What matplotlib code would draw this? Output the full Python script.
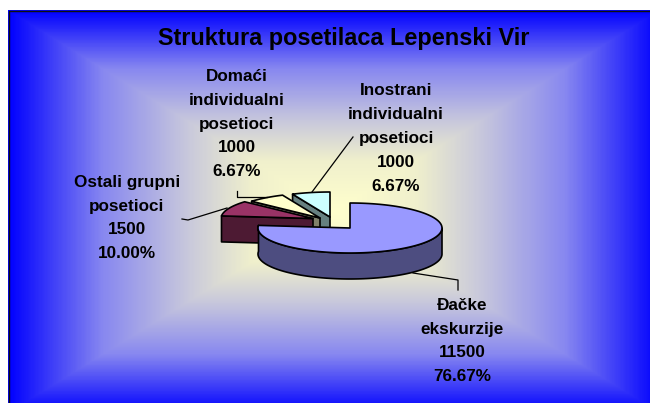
import numpy as np
import matplotlib
matplotlib.use("Agg")
import matplotlib.pyplot as plt
from matplotlib.colors import LinearSegmentedColormap
from matplotlib.patches import Polygon

title = "Struktura posetilaca Lepenski Vir"
categories = ["Đačke\nekskurzije", "Ostali grupni\nposetioci", "Domaći\nindividualni\nposetioci", "Inostrani\nindividualni\nposetioci"]
values = [11500, 1500, 1000, 1000]
percents = ["76.67%", "10.00%", "6.67%", "6.67%"]

W, H = 650, 403
plt.rcParams['font.family'] = ['Liberation Sans', 'DejaVu Sans']
fig = plt.figure(figsize=(W/100, H/100), dpi=100)
ax = fig.add_axes([0, 0, 1, 1])
ax.set_xlim(0, W); ax.set_ylim(H, 0); ax.axis('off')

# background: rectangular gradient that runs on past the right and bottom edge
L, T, R, B = 8, 10, 660, 413
cx0, cy0 = (L+R)/2, (T+B)/2
xs = np.linspace(L, R, 652); ys = np.linspace(T, B, 403)
X, Y = np.meshgrid(xs, ys)
G = np.maximum(np.abs(X-cx0)/((R-L)/2), np.abs(Y-cy0)/((B-T)/2))
cmap = LinearSegmentedColormap.from_list('bg', [(0, '#ffffcc'), (0.25, '#f0f0cc'), (0.45, '#c8c8dc'), (0.71, '#8888f0'), (1, '#0000ff')])
ax.imshow(G, cmap=cmap, vmin=0, vmax=1, extent=(L, R, B, T), aspect='auto', zorder=0, interpolation='bilinear')
ax.set_xlim(0, W); ax.set_ylim(H, 0)
ax.plot([8.5, 8.5, 650], [403, 10.5, 10.5], color='#101010', lw=1.0, zorder=1)

# pie geometry
a, b, depth = 92, 25, 26
centres = [(350, 228), (313, 218.5), (320, 218), (330, 217)]
tops = ['#9999ff', '#993366', '#ffffcc', '#ccffff']
sides = ['#4d4d80', '#4d1a33', '#80806a', '#668080']
frac = np.array(values, float)/sum(values)
edges = np.concatenate([[0], np.cumsum(frac)])*360

def pt(c, th):
    t = np.radians(th)
    return c[0]+a*np.sin(t), c[1]-b*np.cos(t)

def arc(c, t0, t1):
    return [pt(c, v) for v in np.linspace(t0, t1, 120)]

def poly(pts, fc, z):
    ax.add_patch(Polygon(pts, closed=True, fc=fc, ec='black', lw=1.2, zorder=z, joinstyle='round'))

def down(pts):
    return [(x, y+depth) for x, y in pts]

z = 5
for i in [3, 2, 1]:
    c = centres[i]; t0, t1 = edges[i], edges[i+1]
    e = [pt(c, t0), c]
    poly(e+down(e)[::-1], sides[i], z); z += 1
    poly([c]+arc(c, t0, t1), tops[i], z); z += 1

c = centres[0]; t0, t1 = edges[0], edges[1]
wall = arc(c, 90, t1)
poly(wall+down(wall)[::-1], sides[0], z); z += 1
poly([c]+arc(c, t0, t1), tops[0], z); z += 1

leaders = [
    ([413, 458, 458], [273, 280, 290]),
    ([182, 188, 227], [219, 220, 208]),
    ([237, 237, 267], [191, 197, 197]),
    ([353, 312], [137, 192]),
]
for lx, ly in leaders:
    ax.plot(lx, ly, color='black', lw=0.9, zorder=z)

pos = [(462, 341), (127, 218), (237, 124), (396, 138.5)]
for i, (x, y) in enumerate(pos):
    s = f"{categories[i]}\n{values[i]}\n{percents[i]}"
    ax.text(x, y, s, ha='center', va='center', fontsize=12.3, fontweight='bold', color='black', linespacing=1.73, zorder=z+1)
ax.text(344, 38, title, ha='center', va='center', fontsize=16.9, fontweight='bold', color='black', zorder=z+1)

fig.savefig('out.png', dpi=100)
